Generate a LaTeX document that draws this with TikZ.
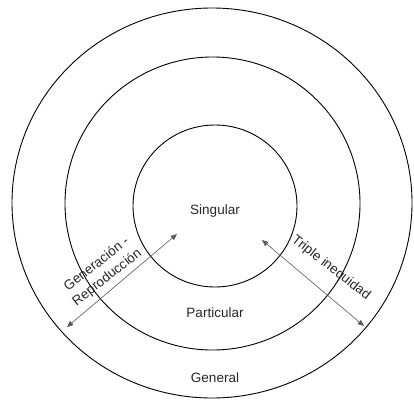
\documentclass[tikz,border=0pt]{standalone}
\usepackage{fontspec}
\setmainfont{Liberation Sans}
\usetikzlibrary{
  positioning,
  arrows.meta,
  shapes.geometric
}

\begin{document}
\begin{tikzpicture}[
  x=1pt, y=1pt,
  ring/.style={draw, ellipse, line width=0.9pt, inner sep=0pt},
  lbl/.style={font=\fontsize{13.5}{17}\selectfont, text=black!85},
  link/.style={{Triangle[length=2.2mm,width=1.8mm]}-{Triangle[length=2.2mm,width=1.8mm]},
               line width=0.6pt, draw=black!65}
]
  \useasboundingbox (0,0) rectangle (414,400);
  % rings
  \node[ring, minimum width=400pt, minimum height=390pt] (general) at (212,197) {};
  \node[ring, minimum width=295pt, minimum height=293pt] (particular) at (212.5,196.5) {};
  \node[ring, minimum width=164pt, minimum height=162pt] (singular) at (215,194) {};
  % names
  \node[lbl] (singtxt) at (215,189) {Singular};
  \node[lbl] (parttxt) at (215,87) {Particular};
  \node[lbl] (gentxt) at (215,22) {General};
  % arrows
  \coordinate (genA) at (67,73);
  \coordinate (genB) at (177,166);
  \coordinate (triA) at (262,160);
  \coordinate (triB) at (364,74);
  \draw[link] (genA) -- (genB);
  \draw[link] (triA) -- (triB);
  \node[lbl, align=center, rotate=38] (gentag) at (102,129) {Generación -\\Reproducción};
  \node[lbl, rotate=-38] (tritag) at (331,132) {Triple inequidad};
\end{tikzpicture}
\end{document}
